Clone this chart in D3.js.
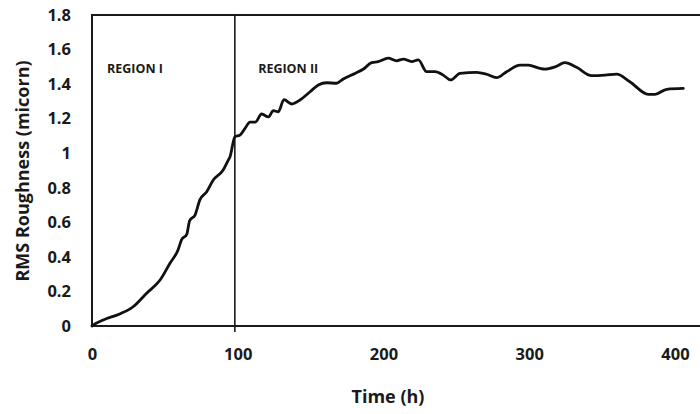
<!DOCTYPE html>
<html>
<head>
<meta charset="utf-8">
<script src="https://cdn.jsdelivr.net/npm/d3@7"></script>
<style>
  html, body { margin: 0; padding: 0; background: #fff; }
  svg { display: block; }
  text { font-family: "Open Sans", Lato, sans-serif; font-weight: 700; fill: #1a1a1a; }
</style>
</head>
<body>
<svg id="chart" width="700" height="414"></svg>
<script>
// ---- data ----
const timeHours = [0, 1, 7.8, 19, 28, 37.5, 46.7, 53.5, 59, 61.5, 65, 67, 70.7, 74, 78.7, 83.2, 90, 93.5, 94.7,
  98, 101.5, 105, 108.4, 112, 116.4, 121, 124.4, 127.8, 131.7, 137, 142.7, 149.6, 155.3, 161, 167.8, 172.4,
  180.4, 186, 191.9, 196.4, 203.3, 209, 213.6, 219.3, 223.9, 229.6, 235.3, 241, 246, 252.5, 263.9, 270.7,
  277.6, 284.5, 293.7, 299.4, 307.4, 310.8, 317.7, 324.5, 332.5, 342.8, 352, 360, 369, 381.7, 386.3, 394.3, 405.7];
const rmsRoughness = [0, 0.006, 0.035, 0.07, 0.11, 0.19, 0.266, 0.363, 0.44, 0.5, 0.53, 0.61, 0.642, 0.73, 0.777, 0.845, 0.903, 0.96, 0.98,
  1.095, 1.105, 1.144, 1.18, 1.18, 1.227, 1.21, 1.246, 1.24, 1.31, 1.285, 1.308, 1.356, 1.395, 1.408, 1.405, 1.43,
  1.462, 1.486, 1.524, 1.53, 1.55, 1.535, 1.545, 1.53, 1.54, 1.472, 1.472, 1.452, 1.424, 1.462, 1.468, 1.457,
  1.437, 1.472, 1.51, 1.51, 1.491, 1.487, 1.5, 1.524, 1.497, 1.449, 1.452, 1.458, 1.414, 1.341, 1.341, 1.37, 1.375];
const xTicks = [0, 100, 200, 300, 400];
const yTicks = [0, 0.2, 0.4, 0.6, 0.8, 1, 1.2, 1.4, 1.6, 1.8];
const regionBoundary = 98;
const regionLabels = ["REGION I", "REGION II"];
const regionLabelX = [10.3, 114];
const xTitle = "Time (h)";
const yTitle = "RMS Roughness (micorn)";

// ---- layout ----
const svg = d3.select("#chart");
const x = d3.scaleLinear().domain([0, 450]).range([92, 92 + 450 * 1.4575]);
const y = d3.scaleLinear().domain([0, 1.8]).range([326, 15]);

// frame
svg.append("rect")
  .attr("x", x(0)).attr("y", y(1.8))
  .attr("width", x(450) - x(0)).attr("height", y(0) - y(1.8))
  .attr("fill", "none").attr("stroke", "#1a1a1a").attr("stroke-width", 2);

// region divider
svg.append("line")
  .attr("x1", x(regionBoundary)).attr("x2", x(regionBoundary))
  .attr("y1", y(1.8)).attr("y2", y(0) + 6)
  .attr("stroke", "#1a1a1a").attr("stroke-width", 1.6);

// axes
const xAxis = svg.append("g").attr("transform", `translate(0,${y(0)})`)
  .call(d3.axisBottom(x).tickValues(xTicks).tickSize(0).tickPadding(22).tickFormat(d3.format("d")));
xAxis.select(".domain").remove();
xAxis.selectAll("text").style("font-size", "16.5px").style("font-family", "'Open Sans', sans-serif").style("font-weight", 700).attr("fill", "#1a1a1a");

const yAxis = svg.append("g").attr("transform", `translate(${x(0)},0)`)
  .call(d3.axisLeft(y).tickValues(yTicks).tickSize(0).tickPadding(21).tickFormat(d => d3.format("")(+d.toFixed(1))));
yAxis.select(".domain").remove();
yAxis.selectAll("text").style("font-size", "16.5px").style("font-family", "'Open Sans', sans-serif").style("font-weight", 700).attr("fill", "#1a1a1a");

// curve
const line = d3.line().x((d, i) => x(timeHours[i])).y(d => y(d)).curve(d3.curveMonotoneX);
svg.append("path")
  .datum(rmsRoughness)
  .attr("d", line)
  .attr("fill", "none").attr("stroke", "#111").attr("stroke-width", 2.8)
  .attr("stroke-linejoin", "round").attr("stroke-linecap", "round");

// region labels
regionLabels.forEach((t, i) => {
  svg.append("text")
    .attr("x", x(regionLabelX[i])).attr("y", 73)
    .style("font-size", "12.5px")
    .text(t);
});

// titles
svg.append("text")
  .attr("x", 388).attr("y", 403)
  .attr("text-anchor", "middle")
  .style("font-size", "18px")
  .text(xTitle);

svg.append("text")
  .attr("transform", `translate(29,171) rotate(-90)`)
  .attr("text-anchor", "middle")
  .style("font-size", "18px")
  .text(yTitle);
</script>
</body>
</html>
